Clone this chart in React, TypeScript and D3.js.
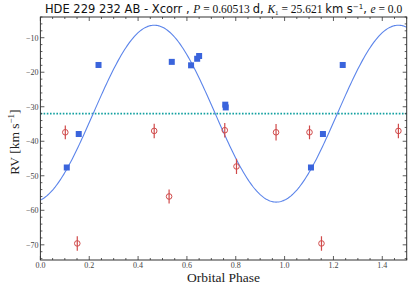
import { useEffect, useRef } from "react";
import * as d3 from "d3";

// primary (filled squares)
const primaryPhase = [0.108, 0.157, 0.238, 0.538, 0.617, 0.642, 0.65, 0.757, 0.759, 1.108, 1.157, 1.238];
const primaryRV = [-47.6, -37.9, -17.9, -17.0, -18.0, -16.1, -15.3, -29.4, -30.2, -47.6, -37.9, -17.9];

// secondary (open circles with errors)
const secondaryPhase = [0.102, 0.151, 0.466, 0.527, 0.755, 0.803, 0.965, 1.102, 1.151, 1.466];
const secondaryRV = [-37.4, -69.6, -37.0, -56.0, -36.8, -47.3, -37.4, -37.4, -69.6, -37.0];
const secondaryErr = [2.0, 2.1, 2.1, 2.0, 2.1, 2.2, 2.4, 2.0, 2.1, 2.1];

// orbit solution
const K1 = 25.621;
const GAMMA = -32.0;
const PHASE_MAX = 0.466;

const xTicks = [0, 0.2, 0.4, 0.6, 0.8, 1.0, 1.2, 1.4];
const yTicks = [-10, -20, -30, -40, -50, -60, -70];

export default function App() {
  const svgRef = useRef<SVGSVGElement>(null);

  useEffect(() => {
    const width = 415;
    const height = 288;
    const margin = { top: 17, right: 8.3, bottom: 28, left: 40.4 };
    const x0 = margin.left;
    const x1 = width - margin.right;
    const y0 = margin.top;
    const y1 = height - margin.bottom;

    const svg = d3.select(svgRef.current);
    svg.selectAll("*").remove();
    svg.attr("width", width).attr("height", height);

    const x = d3.scaleLinear().domain([0, 1.5]).range([x0, x1]);
    const y = d3.scaleLinear().domain([-74.4, -4]).range([y1, y0]);

    const serif = "'Liberation Serif', 'DejaVu Serif', serif";
    const sans = "'DejaVu Sans', sans-serif";

    svg.append("rect").attr("width", width).attr("height", height).attr("fill", "#fff");

    const clipId = "plotclip";
    svg
      .append("clipPath")
      .attr("id", clipId)
      .append("rect")
      .attr("x", x0)
      .attr("y", y0)
      .attr("width", x1 - x0)
      .attr("height", y1 - y0);

    const plot = svg.append("g").attr("clip-path", `url(#${clipId})`);

    // systemic velocity
    plot
      .append("line")
      .attr("x1", x0)
      .attr("x2", x1)
      .attr("y1", y(GAMMA))
      .attr("y2", y(GAMMA))
      .attr("stroke", "#13a0a0")
      .attr("stroke-width", 1.8)
      .attr("stroke-dasharray", "1.6,1.6");

    // model curve
    const phases = d3.range(0, 1.5001, 0.005);
    const line = d3
      .line<number>()
      .x((p) => x(p))
      .y((p) => y(GAMMA + K1 * Math.cos(2 * Math.PI * (p - PHASE_MAX))));
    plot
      .append("path")
      .attr("d", line(phases))
      .attr("fill", "none")
      .attr("stroke", "#5b84ea")
      .attr("stroke-width", 1.1);

    // secondary
    secondaryPhase.forEach((p, i) => {
      const cx = x(p);
      const v = secondaryRV[i];
      const e = secondaryErr[i];
      plot
        .append("line")
        .attr("x1", cx)
        .attr("x2", cx)
        .attr("y1", y(v - e))
        .attr("y2", y(v + e))
        .attr("stroke", "#d04a4a")
        .attr("stroke-width", 1.2);
      plot
        .append("circle")
        .attr("cx", cx)
        .attr("cy", y(v))
        .attr("r", 2.8)
        .attr("fill", "none")
        .attr("stroke", "#d04a4a")
        .attr("stroke-width", 1);
    });

    // primary
    primaryPhase.forEach((p, i) => {
      plot
        .append("rect")
        .attr("x", x(p) - 3)
        .attr("y", y(primaryRV[i]) - 3)
        .attr("width", 6)
        .attr("height", 6)
        .attr("fill", "#3a64dc");
    });

    // frame
    const axisColor = "#333";
    svg
      .append("rect")
      .attr("x", x0)
      .attr("y", y0)
      .attr("width", x1 - x0)
      .attr("height", y1 - y0)
      .attr("fill", "none")
      .attr("stroke", axisColor)
      .attr("stroke-width", 1);

    const ticks = svg.append("g").attr("stroke", axisColor).attr("stroke-width", 0.8);
    const xMinor = d3.range(0, 1.5001, 0.05);
    xMinor.forEach((t) => {
      const isMajor = Math.abs(Math.round(t * 5) - t * 5) < 1e-6;
      const len = isMajor ? 4 : 2;
      ticks.append("line").attr("x1", x(t)).attr("x2", x(t)).attr("y1", y1).attr("y2", y1 - len);
      ticks.append("line").attr("x1", x(t)).attr("x2", x(t)).attr("y1", y0).attr("y2", y0 + len);
    });
    const yMinor = d3.range(-74, -3.99, 2);
    yMinor.forEach((t) => {
      const isMajor = t % 10 === 0;
      const len = isMajor ? 4 : 2;
      ticks.append("line").attr("x1", x0).attr("x2", x0 + len).attr("y1", y(t)).attr("y2", y(t));
      ticks.append("line").attr("x1", x1).attr("x2", x1 - len).attr("y1", y(t)).attr("y2", y(t));
    });

    svg
      .append("g")
      .selectAll("text")
      .data(xTicks)
      .join("text")
      .attr("x", (d) => x(d))
      .attr("y", y1 + 8)
      .attr("text-anchor", "middle")
      .attr("font-family", serif)
      .attr("font-size", 8)
      .attr("fill", "#444")
      .text((d) => d.toFixed(1));

    svg
      .append("g")
      .selectAll("text")
      .data(yTicks)
      .join("text")
      .attr("x", x0 - 2)
      .attr("y", (d) => y(d) + 3)
      .attr("text-anchor", "end")
      .attr("font-family", serif)
      .attr("font-size", 8)
      .attr("fill", "#444")
      .text((d) => "\u2212" + Math.abs(d));

    svg
      .append("text")
      .attr("x", (x0 + x1) / 2)
      .attr("y", 282)
      .attr("text-anchor", "middle")
      .attr("font-family", serif)
      .attr("font-size", 13.5)
      .attr("fill", "#222")
      .text("Orbital Phase");

    const yl = svg
      .append("text")
      .attr("transform", `translate(19,142) rotate(-90)`)
      .attr("text-anchor", "middle")
      .attr("font-family", serif)
      .attr("font-size", 13.5)
      .attr("fill", "#222");
    yl.append("tspan").text("RV [km s");
    yl.append("tspan").attr("font-size", 9).attr("dy", -5).text("\u22121");
    yl.append("tspan").attr("dy", 5).text("]");

    // title
    const title = svg
      .append("text")
      .attr("x", (x0 + x1) / 2)
      .attr("y", 13)
      .attr("text-anchor", "middle")
      .attr("font-size", 11.5)
      .attr("fill", "#111");
    const part = (s: string, font: string, italic = false) =>
      title
        .append("tspan")
        .attr("font-family", font)
        .attr("font-style", italic ? "italic" : "normal")
        .text(s);
    part("HDE 229 232 AB - Xcorr ,  ", sans);
    part("P", serif, true);
    part(" = 0.60513 ", serif);
    part("d, ", sans);
    part("K", serif, true);
    title.append("tspan").attr("font-family", serif).attr("font-size", 7).attr("dy", 2).text("1");
    title.append("tspan").attr("font-family", serif).attr("dy", -2).text(" = 25.621 ");
    part("km s", sans);
    title.append("tspan").attr("font-family", sans).attr("font-size", 7).attr("dy", -4).text("\u22121");
    title.append("tspan").attr("font-family", sans).attr("dy", 4).text(",  ");
    part("e", serif, true);
    part(" = 0.0", serif);
  }, []);

  return <svg ref={svgRef} style={{ display: "block", position: "absolute", left: 0, top: 0 }}></svg>;
}
